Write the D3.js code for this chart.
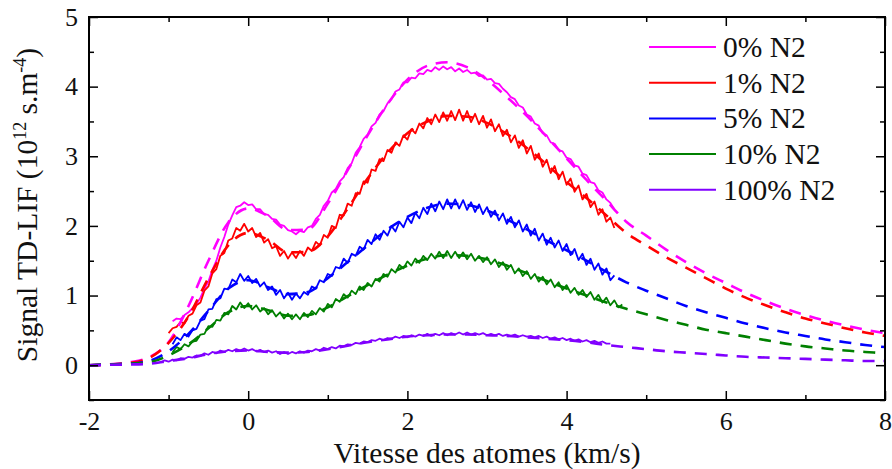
<!DOCTYPE html>
<html><head><meta charset="utf-8">
<script src="https://cdn.jsdelivr.net/npm/d3@7"></script>
<style>body{margin:0;background:#fff}svg{display:block}text{font-family:"Liberation Serif","Times New Roman",serif;fill:#111}</style>
</head><body><svg id="c" width="892" height="469"></svg>
<script>
// ---- data ----
const seriesNames = ["0% N2", "1% N2", "5% N2", "10% N2", "100% N2"];
const seriesColors = ["#ff00ff", "#ff0000", "#0000ff", "#008000", "#8000ff"];
const sampleStep = 0.05;
const sampleStart = [-0.95, -1.00, -0.95, -0.95, -1.10];

const data0 = [0.63,0.67,0.66,0.72,0.76,0.82,0.88,0.97,1.10,1.20,1.37,1.50,1.69,1.84,2.02,2.15,2.27,2.29,2.34,2.30,2.31,2.24,2.24,2.17,2.16,2.10,2.09,2.02,2.00,1.94,1.92,1.88,1.93,1.91,1.98,2.00,2.10,2.16,2.29,2.36,2.48,2.53,2.64,2.70,2.83,2.90,3.05,3.13,3.25,3.31,3.43,3.48,3.60,3.65,3.76,3.82,3.93,3.96,4.06,4.06,4.13,4.12,4.19,4.18,4.24,4.22,4.28,4.24,4.29,4.25,4.28,4.22,4.26,4.21,4.24,4.19,4.20,4.15,4.16,4.10,4.11,4.05,4.04,3.97,3.92,3.85,3.82,3.73,3.70,3.60,3.57,3.47,3.44,3.33,3.30,3.20,3.18,3.09,3.07,2.98,2.96,2.87,2.85,2.75,2.73,2.63,2.61,2.51,2.48,2.38,2.33,2.24];
const data1 = [0.46,0.53,0.55,0.62,0.60,0.71,0.74,0.86,0.90,1.07,1.13,1.32,1.38,1.57,1.61,1.79,1.82,1.97,1.93,2.03,1.92,1.97,1.84,1.90,1.76,1.81,1.68,1.71,1.57,1.64,1.53,1.62,1.54,1.64,1.57,1.69,1.64,1.77,1.72,1.87,1.83,2.00,1.97,2.16,2.15,2.32,2.29,2.47,2.46,2.64,2.62,2.81,2.79,2.96,2.93,3.09,3.05,3.20,3.15,3.30,3.24,3.39,3.33,3.47,3.40,3.55,3.46,3.60,3.49,3.63,3.51,3.65,3.52,3.67,3.51,3.65,3.49,3.61,3.46,3.58,3.41,3.53,3.36,3.46,3.29,3.38,3.20,3.30,3.12,3.23,3.04,3.15,2.95,3.04,2.85,2.95,2.76,2.86,2.67,2.78,2.59,2.68,2.49,2.58,2.38,2.46,2.27,2.35,2.16,2.24,2.06,2.12,1.97];
const data2 = [0.30,0.40,0.36,0.45,0.41,0.50,0.52,0.64,0.66,0.80,0.81,0.95,0.96,1.10,1.09,1.23,1.19,1.31,1.21,1.28,1.18,1.24,1.13,1.19,1.08,1.13,1.01,1.08,0.96,1.04,0.94,1.03,0.96,1.05,1.01,1.13,1.10,1.22,1.19,1.31,1.28,1.41,1.39,1.53,1.47,1.60,1.57,1.70,1.66,1.80,1.74,1.88,1.80,1.93,1.86,2.00,1.92,2.06,1.98,2.12,2.04,2.19,2.11,2.26,2.17,2.32,2.21,2.35,2.24,2.38,2.25,2.38,2.25,2.37,2.23,2.34,2.20,2.31,2.17,2.27,2.13,2.22,2.08,2.18,2.03,2.13,1.98,2.08,1.92,2.02,1.86,1.96,1.79,1.89,1.73,1.83,1.69,1.79,1.64,1.74,1.58,1.67,1.51,1.60,1.44,1.53,1.37,1.46,1.30,1.39,1.22,1.29];
const data3 = [0.19,0.26,0.23,0.30,0.27,0.34,0.35,0.44,0.45,0.56,0.55,0.65,0.64,0.75,0.73,0.85,0.80,0.90,0.82,0.89,0.80,0.86,0.77,0.82,0.73,0.79,0.70,0.76,0.67,0.74,0.66,0.73,0.66,0.75,0.69,0.78,0.73,0.82,0.77,0.88,0.83,0.95,0.91,1.02,0.97,1.07,1.02,1.13,1.08,1.18,1.13,1.24,1.20,1.31,1.27,1.38,1.33,1.44,1.39,1.49,1.43,1.53,1.47,1.57,1.51,1.60,1.53,1.63,1.54,1.64,1.54,1.63,1.54,1.62,1.52,1.60,1.50,1.57,1.48,1.55,1.45,1.52,1.41,1.48,1.37,1.44,1.32,1.39,1.28,1.35,1.24,1.31,1.20,1.27,1.16,1.23,1.12,1.19,1.08,1.15,1.04,1.11,1.01,1.08,0.98,1.05,0.94,1.01,0.90,0.97,0.86,0.93,0.83,0.87];
const data4 = [0.04,0.07,0.05,0.08,0.07,0.10,0.09,0.12,0.11,0.14,0.13,0.17,0.15,0.19,0.17,0.21,0.19,0.22,0.20,0.23,0.21,0.24,0.21,0.23,0.20,0.22,0.19,0.21,0.18,0.20,0.16,0.19,0.16,0.19,0.17,0.20,0.18,0.21,0.20,0.23,0.21,0.25,0.23,0.26,0.24,0.28,0.27,0.30,0.29,0.32,0.31,0.34,0.33,0.36,0.35,0.38,0.36,0.39,0.38,0.41,0.39,0.42,0.40,0.43,0.41,0.44,0.42,0.45,0.42,0.45,0.43,0.46,0.43,0.46,0.44,0.47,0.44,0.47,0.44,0.46,0.44,0.46,0.43,0.45,0.43,0.45,0.42,0.44,0.42,0.44,0.41,0.43,0.41,0.42,0.40,0.42,0.39,0.41,0.38,0.40,0.37,0.39,0.36,0.38,0.35,0.37,0.34,0.36,0.33,0.35,0.32,0.34,0.31,0.31];

const fitX = [-2,-1.75,-1.5,-1.25,-1,-0.75,-0.5,-0.25,0,0.25,0.5,0.75,1,1.25,1.5,1.75,2,2.25,2.5,2.75,3,3.25,3.5,3.75,4,4.25,4.5,4.75,5,5.25,5.5,5.75,6,6.25,6.5,6.75,7,7.25,7.5,7.75,8];
const fit0 = [0,0.01,0.04,0.11,0.33,0.85,1.50,2.05,2.25,2.14,1.94,1.95,2.32,2.80,3.30,3.75,4.10,4.30,4.35,4.28,4.10,3.85,3.58,3.28,2.97,2.66,2.36,2.06,1.86,1.66,1.48,1.32,1.18,1.04,0.92,0.81,0.72,0.64,0.57,0.51,0.46];
const fit1 = [0,0.01,0.03,0.10,0.32,0.70,1.25,1.72,1.90,1.80,1.62,1.63,1.85,2.25,2.68,3.05,3.33,3.50,3.58,3.57,3.48,3.32,3.12,2.88,2.63,2.40,2.15,1.90,1.72,1.55,1.40,1.25,1.10,0.97,0.86,0.76,0.67,0.60,0.53,0.47,0.42];
const fit2 = [0,0.01,0.02,0.06,0.20,0.45,0.78,1.10,1.22,1.12,1.02,1.05,1.25,1.48,1.72,1.95,2.13,2.26,2.32,2.30,2.22,2.09,1.95,1.79,1.65,1.50,1.34,1.19,1.07,0.96,0.85,0.76,0.68,0.60,0.53,0.47,0.42,0.37,0.33,0.29,0.26];
const fit3 = [0,0.01,0.02,0.04,0.14,0.30,0.53,0.76,0.85,0.79,0.71,0.72,0.83,0.99,1.15,1.30,1.43,1.53,1.58,1.57,1.52,1.43,1.32,1.21,1.10,1.00,0.90,0.81,0.73,0.65,0.58,0.51,0.46,0.41,0.36,0.31,0.27,0.24,0.21,0.19,0.17];
const fit4 = [0,0.005,0.01,0.02,0.06,0.10,0.16,0.20,0.21,0.19,0.18,0.19,0.23,0.28,0.33,0.37,0.41,0.43,0.44,0.44,0.43,0.42,0.40,0.38,0.36,0.33,0.29,0.26,0.23,0.20,0.18,0.16,0.14,0.12,0.11,0.10,0.09,0.08,0.07,0.06,0.06];

const xTicks = [-2, 0, 2, 4, 6, 8];
const xMinor = [-1, 1, 3, 5, 7];
const yTicks = [0, 1, 2, 3, 4, 5];
const yMinor = [-0.5, 0.5, 1.5, 2.5, 3.5, 4.5];

const dataSets = [data0, data1, data2, data3, data4];
const fitSets = [fit0, fit1, fit2, fit3, fit4];

// ---- layout ----
const L = 89, R = 885, T = 17, B = 400;
const x = d3.scaleLinear().domain([-2, 8]).range([L, R]);
const y = d3.scaleLinear().domain([-0.5, 5]).range([B, T]);
const svg = d3.select("#c");

svg.append("defs").append("clipPath").attr("id", "clip")
  .append("rect").attr("x", L).attr("y", T).attr("width", R - L).attr("height", B - T);

const plot = svg.append("g").attr("clip-path", "url(#clip)");

const line = d3.line().x(d => x(d[0])).y(d => y(d[1]));

dataSets.forEach((arr, i) => {
  const pts = arr.map((v, k) => [sampleStart[i] + k * sampleStep, v]);
  plot.append("path").datum(pts).attr("d", line)
    .attr("fill", "none").attr("stroke", seriesColors[i])
    .attr("stroke-width", 1.8).attr("stroke-linejoin", "round");
});

const fitLine = d3.line().x(d => x(d[0])).y(d => y(d[1])).curve(d3.curveMonotoneX);
fitSets.forEach((arr, i) => {
  const pts = arr.map((v, k) => [fitX[k], v]);
  plot.append("path").datum(pts).attr("d", fitLine)
    .attr("fill", "none").attr("stroke", seriesColors[i])
    .attr("stroke-width", 2.6).attr("stroke-dasharray", "12,9");
});

// axes frame
const frame = svg.append("g");
frame.append("rect").attr("x", L).attr("y", T).attr("width", R - L).attr("height", B - T)
  .attr("fill", "none").attr("stroke", "#000").attr("stroke-width", 2);

const fmt = d => String(d);
const axB = d3.axisBottom(x).tickValues(xTicks).tickSize(-9).tickPadding(12).tickFormat(fmt);
const axBm = d3.axisBottom(x).tickValues(xMinor).tickSize(-5).tickFormat("");
const axT = d3.axisTop(x).tickValues(xTicks).tickSize(-9).tickFormat("");
const axTm = d3.axisTop(x).tickValues(xMinor).tickSize(-5).tickFormat("");
const axL = d3.axisLeft(y).tickValues(yTicks).tickSize(-9).tickPadding(11).tickFormat(fmt);
const axLm = d3.axisLeft(y).tickValues(yMinor).tickSize(-5).tickFormat("");
const axR = d3.axisRight(y).tickValues(yTicks).tickSize(-9).tickFormat("");
const axRm = d3.axisRight(y).tickValues(yMinor).tickSize(-5).tickFormat("");

function styleAx(g) {
  g.select(".domain").remove();
  g.selectAll(".tick line").attr("stroke", "#000").attr("stroke-width", 1.5);
  g.selectAll(".tick text").attr("font-size", 26).attr("fill", "#111")
    .style("font-family", '"Liberation Serif", serif');
}
[[axB, `translate(0,${B})`], [axBm, `translate(0,${B})`], [axT, `translate(0,${T})`], [axTm, `translate(0,${T})`],
 [axL, `translate(${L},0)`], [axLm, `translate(${L},0)`], [axR, `translate(${R},0)`], [axRm, `translate(${R},0)`]]
  .forEach(([a, t]) => svg.append("g").attr("transform", t).call(a).call(styleAx));

// axis titles
svg.append("text").attr("x", (L + R) / 2).attr("y", 463).attr("text-anchor", "middle")
  .attr("font-size", 29.5).text("Vitesse des atomes (km/s)");

const yt = svg.append("text").attr("transform", `translate(37,205) rotate(-90)`)
  .attr("text-anchor", "middle").attr("font-size", 29.5);
yt.append("tspan").text("Signal TD-LIF (10");
yt.append("tspan").attr("font-size", 18).attr("dy", -11).text("12");
yt.append("tspan").attr("dy", 11).text(" s.m");
yt.append("tspan").attr("font-size", 18).attr("dy", -11).text("-4");
yt.append("tspan").attr("dy", 11).text(")");

// legend
const lg = svg.append("g");
seriesNames.forEach((n, i) => {
  const yy = 47 + i * 35.7;
  lg.append("line").attr("x1", 649).attr("x2", 716).attr("y1", yy).attr("y2", yy)
    .attr("stroke", seriesColors[i]).attr("stroke-width", 2);
  lg.append("text").attr("x", 723).attr("y", yy + 10).attr("font-size", 29.5).text(n);
});
</script></body></html>
